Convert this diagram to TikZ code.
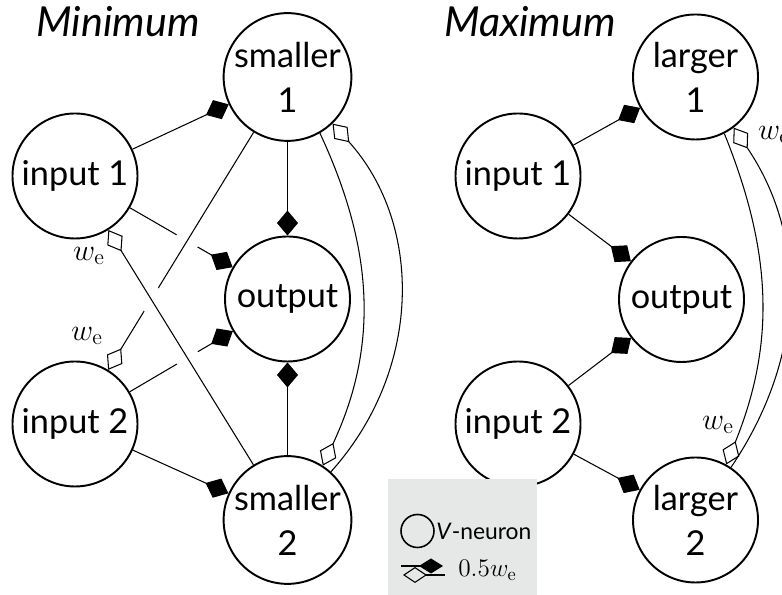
\documentclass[tikz,border=0pt]{standalone}
\usepackage{fontspec}
\setsansfont{Lato}
\usetikzlibrary{arrows.meta}
\definecolor{lgdgray}{HTML}{E6E7E7}

\begin{document}
\begin{tikzpicture}[
      font=\sffamily,
      neuron/.style={circle, draw, line width=1.1pt, minimum size=2.5cm, inner sep=0pt,
                     align=center, font=\sffamily\fontsize{19.5}{25.5}\selectfont},
      hdr/.style={font=\sffamily\itshape\fontsize{23.5}{27}\selectfont},
      halfw/.style={line width=0.6pt, -{Diamond[length=0.5cm, width=0.42cm]}},
      fullw/.style={line width=0.6pt, -{Diamond[open, length=0.5cm, width=0.36cm]}},
      halo/.style={draw=white, line width=0.48cm},
      wlbl/.style={font=\fontsize{18}{20}\selectfont},
      lgtxt/.style={anchor=west, inner sep=0pt, font=\sffamily\fontsize{13}{15}\selectfont}
    ]
    \useasboundingbox (0,0) rectangle (15.64,11.9);
    \clip (0,0) rectangle (15.64,11.9);
    % ------------- Minimum -------------
    \node[hdr] (tmin) at (2.36,11.46) {Minimum};
    \node[neuron] (in1L) at (1.50,8.38) {input 1};
    \node[neuron] (s1) at (5.75,10.36) {smaller\\1};
    \node[neuron] (outL) at (5.75,5.92) {output};
    \node[neuron] (in2L) at (1.50,3.42) {input 2};
    \node[neuron] (s2) at (5.75,1.50) {smaller\\2};
    \draw[halfw] (in1L) -- (s1);
    \draw[halfw] (s1) -- (outL);
    \draw[halfw] (s2) -- (outL);
    \draw[halfw] (in2L) -- (s2);
    \draw[halfw] (in1L) -- (outL);
    \draw[halo, shorten <=1.2cm, shorten >=1.2cm] (s1) -- (in2L);
    \draw[fullw] (s1) -- (in2L);
    \draw[halfw] (in2L) -- (outL);
    \draw[halo, shorten <=1.0cm, shorten >=0.8cm] (s2) -- (in1L);
    \draw[fullw] (s2) -- (in1L);
    \draw[fullw] (s1.-60) to[out=-65, in=65] (s2.57);
    \draw[fullw] (s2.48) to[out=48, in=-48] (s1.-46);
    \node[wlbl] (we1) at (1.78,6.78) {$w_{\mathrm{e}}$};
    \node[wlbl] (we2) at (1.74,5.18) {$w_{\mathrm{e}}$};
    % ------------- Maximum -------------
    \node[hdr] (tmax) at (10.60,11.46) {Maximum};
    \node[neuron] (in1R) at (10.36,8.38) {input 1};
    \node[neuron] (l1) at (13.91,10.36) {larger\\1};
    \node[neuron] (outR) at (13.63,5.91) {output};
    \node[neuron] (in2R) at (10.36,3.42) {input 2};
    \node[neuron] (l2) at (13.91,1.50) {larger\\2};
    \draw[halfw] (in1R) -- (l1);
    \draw[halfw] (in1R) -- (outR);
    \draw[halfw] (in2R) -- (outR);
    \draw[halfw] (in2R) -- (l2);
    \draw[fullw] (l1.-63) to[out=-68, in=68] (l2.61);
    \draw[fullw] (l2.56) to[out=56, in=-56] (l1.-53);
    \node[wlbl] (we3) at (14.36,3.40) {$w_{\mathrm{e}}$};
    \node[wlbl] (we4) at (15.48,9.20) {$w_{\mathrm{e}}$};
    % ------------- legend -------------
    \fill[lgdgray] (7.76,-0.1) rectangle (10.74,2.32);
    \node[circle, draw, line width=0.9pt, minimum size=0.66cm, inner sep=0pt] (lgc) at (8.35,1.28) {};
    \node[lgtxt] (lgn) at (8.72,1.27) {\textit{V}-neuron};
    \coordinate (lgA) at (8.02,0.58);
    \coordinate (lgB) at (8.86,0.58);
    \coordinate (lgC) at (8.06,0.40);
    \coordinate (lgD) at (8.90,0.40);
    \draw[line width=0.6pt, -{Diamond[length=0.48cm, width=0.3cm]}] (lgA) -- (lgB);
    \draw[line width=0.6pt, {Diamond[open, length=0.48cm, width=0.32cm]}-] (lgC) -- (lgD);
    \node[lgtxt, font=\fontsize{15}{17}\selectfont] (lgw) at (9.16,0.49) {$0.5w_{\mathrm{e}}$};
  \end{tikzpicture}
\end{document}
